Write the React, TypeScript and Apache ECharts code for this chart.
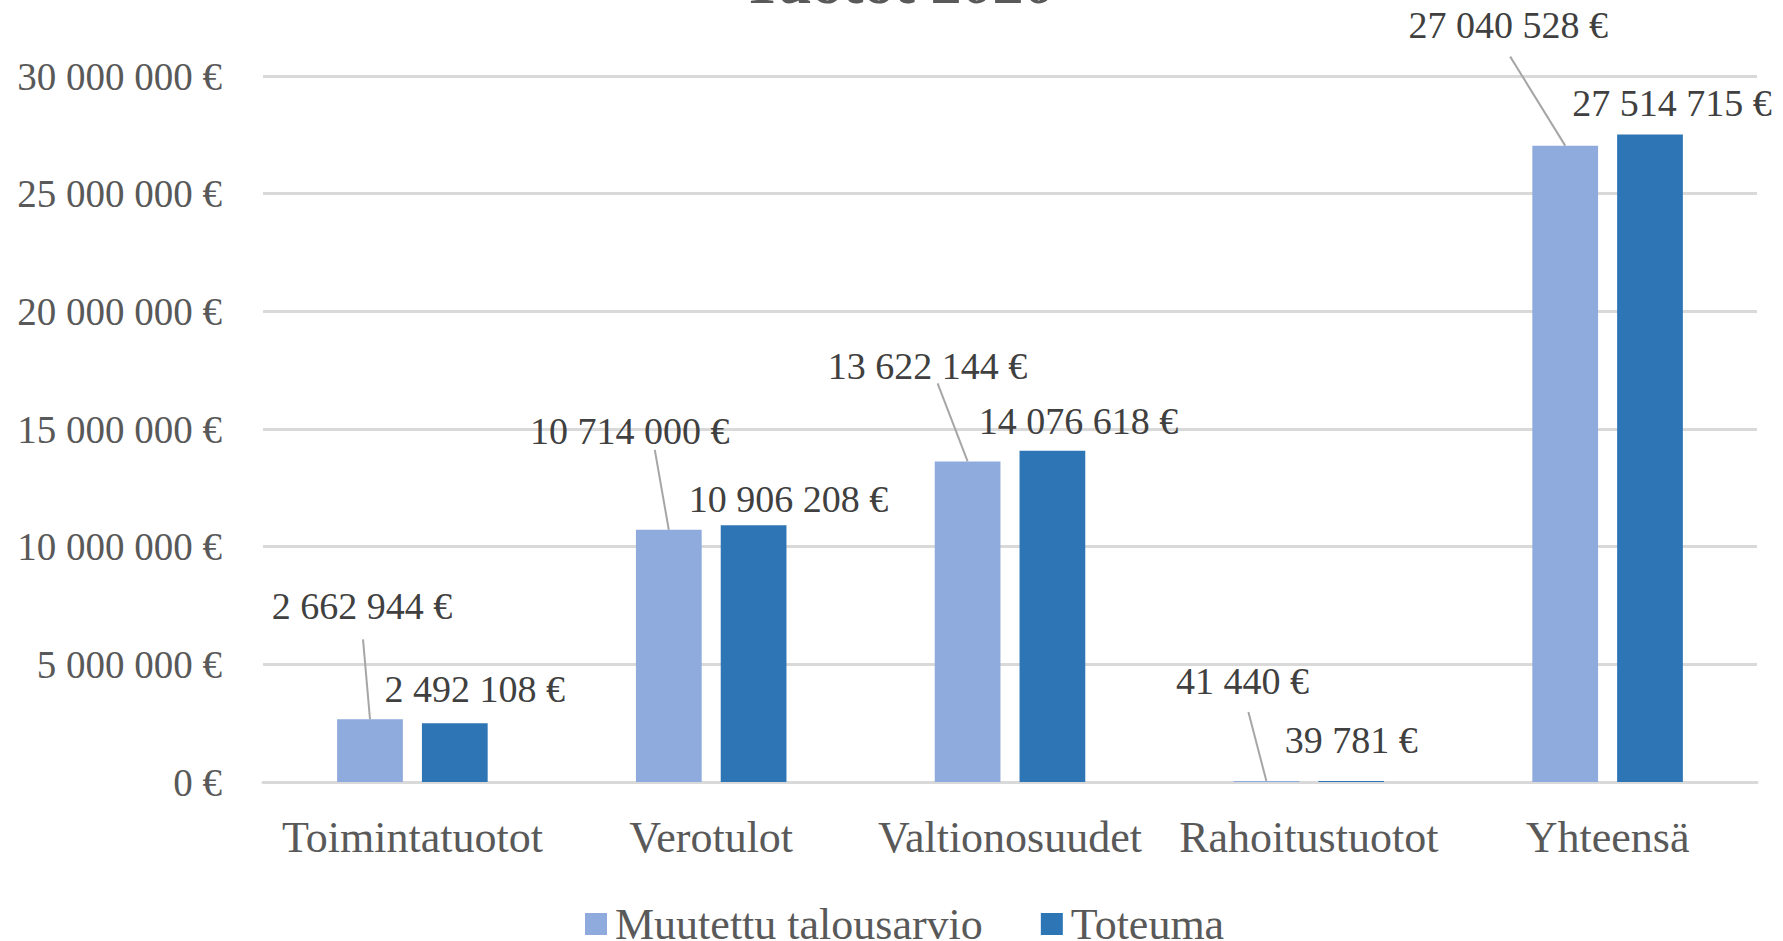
import React, { useEffect, useRef } from "react";
import * as echarts from "echarts";

const categories = ["Toimintatuotot", "Verotulot", "Valtionosuudet", "Rahoitustuotot", "Yhteensä"];
const budget = [2662944, 10714000, 13622144, 41440, 27040528];
const actual = [2492108, 10906208, 14076618, 39781, 27514715];
const seriesNames = ["Muutettu talousarvio", "Toteuma"];
const titleText = "Tuotot 2020";

// label shifts and leader-line ends, relative to each bar's top (layout only)
const budgetLabelShift = [[-8, -89], [-39, -75], [-40, -71], [-24, -76], [-57, -97]];
const actualLabelShift = [[20, -10], [35, -2], [26, -6], [0, -17], [22, -7]];
const budgetLeaderEnd = [[-7, -80], [-14, -80], [-30, -78], [-18, -69], [-55, -89]];

const BAR_W = 0.22;
const BAR_GAP = 0.29;

const fmt = (v: number) => String(Math.round(v)).replace(/\B(?=(\d{3})+(?!\d))/g, " ") + " €";
const FONT = "Liberation Serif";

export default function App() {
  const ref = useRef<HTMLDivElement>(null);
  useEffect(() => {
    if (!ref.current) return;
    const chart = echarts.init(ref.current, null, { renderer: "svg" });
    chart.setOption({
      animation: false,
      backgroundColor: "#ffffff",
      title: {
        text: titleText,
        left: 893,
        textAlign: "center",
        top: -54,
        textStyle: { fontFamily: FONT, fontSize: 62, fontWeight: "bold", color: "#595959" },
      },
      legend: {
        data: seriesNames,
        left: 585,
        top: 902,
        padding: 0,
        itemWidth: 22,
        itemHeight: 22,
        itemGap: 58,
        icon: "rect",
        textStyle: { fontFamily: FONT, fontSize: 44, lineHeight: 38, color: "#595959", padding: [0, 0, 0, 3] },
      },
      grid: { left: 263, right: 26, top: 76, bottom: 159 },
      xAxis: {
        type: "category",
        data: categories,
        axisTick: { show: false },
        axisLine: { lineStyle: { color: "#d9d9d9", width: 3 } },
        axisLabel: { interval: 0, fontFamily: FONT, fontSize: 44, color: "#595959", margin: 33 },
      },
      yAxis: {
        type: "value",
        min: 0,
        max: 30000000,
        interval: 5000000,
        axisLine: { show: false },
        axisTick: { show: false },
        splitLine: { lineStyle: { color: "#d9d9d9", width: 3 } },
        axisLabel: { fontFamily: FONT, fontSize: 39, color: "#595959", margin: 41, formatter: (v: number) => fmt(v) },
      },
      series: [
        {
          name: seriesNames[0],
          type: "bar",
          data: budget,
          barWidth: BAR_W * 100 + "%",
          barGap: BAR_GAP * 100 + "%",
          itemStyle: { color: "#8faadc" },
          label: {
            show: true,
            position: "top",
            fontFamily: FONT,
            fontSize: 38,
            color: "#404040",
            formatter: (p: any) => fmt(p.value),
          },
          labelLayout: (p: any) => ({ dx: budgetLabelShift[p.dataIndex][0], dy: budgetLabelShift[p.dataIndex][1] }),
        },
        {
          name: seriesNames[1],
          type: "bar",
          data: actual,
          barWidth: BAR_W * 100 + "%",
          itemStyle: { color: "#2e75b6" },
          label: {
            show: true,
            position: "top",
            fontFamily: FONT,
            fontSize: 38,
            color: "#404040",
            formatter: (p: any) => fmt(p.value),
          },
          labelLayout: (p: any) => ({ dx: actualLabelShift[p.dataIndex][0], dy: actualLabelShift[p.dataIndex][1] }),
        },
        {
          name: "leaders",
          type: "custom",
          data: budget.map((v, i) => [i, v]),
          encode: { x: 0, y: 1 },
          silent: true,
          z: 3,
          renderItem: (params: any, api: any) => {
            const p = api.coord([api.value(0), api.value(1)]);
            const band = api.size([1, 0])[0];
            const bx = p[0] - (band * BAR_W * (1 + BAR_GAP)) / 2;
            const off = budgetLeaderEnd[params.dataIndex];
            return {
              type: "line",
              shape: { x1: bx, y1: p[1], x2: bx + off[0], y2: p[1] + off[1] },
              style: { stroke: "#a6a6a6", lineWidth: 2 },
            };
          },
        },
      ],
    });
    return () => chart.dispose();
  }, []);
  return <div ref={ref} style={{ position: "fixed", left: 0, top: 0, width: 1783, height: 941 }} />;
}
